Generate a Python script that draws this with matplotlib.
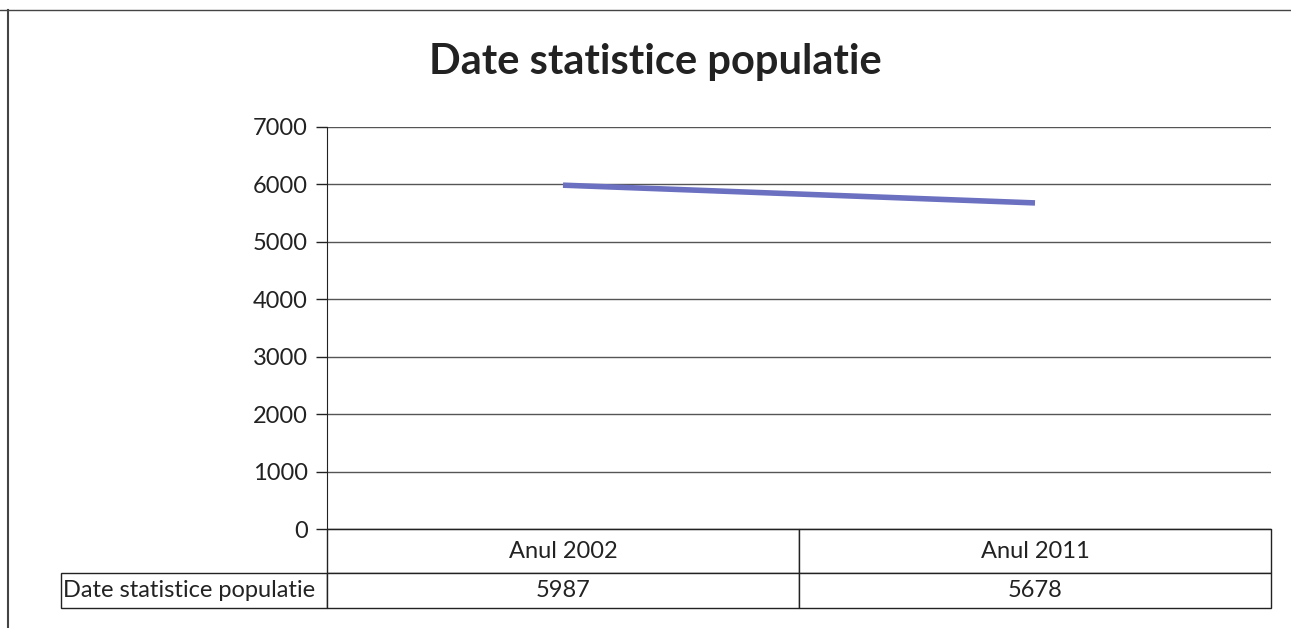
import matplotlib.pyplot as plt
from matplotlib.lines import Line2D

# data
categories = ['Anul 2002', 'Anul 2011']
populatie = [5987, 5678]
series_name = 'Date statistice populatie'
y_ticks = [0, 1000, 2000, 3000, 4000, 5000, 6000, 7000]

plt.rcParams['font.family'] = ['Lato', 'DejaVu Sans']

W, H = 1291, 628
fig = plt.figure(figsize=(W / 100, H / 100), dpi=100)

# axes box in pixels: x 327..1271, y 127..529 (from top)
ax_l, ax_r, ax_t, ax_b = 327, 1271, 127, 529
ax = fig.add_axes([ax_l / W, 1 - ax_b / H, (ax_r - ax_l) / W, (ax_b - ax_t) / H])

x = range(len(categories))
ax.plot(x, populatie, color='#6b70c0', lw=4, solid_capstyle='butt')

ax.set_xlim(-0.5, len(categories) - 0.5)
ax.set_ylim(0, 7000)
ax.set_yticks(y_ticks)
ax.set_xticks([])
ax.tick_params(axis='y', labelsize=17, length=8, width=1, pad=6, colors='#222222')
ax.yaxis.grid(True, color='#555555', lw=1)
ax.set_axisbelow(True)
for s in ['top', 'right']:
    ax.spines[s].set_visible(False)
ax.spines['left'].set_color('#222222')
ax.spines['bottom'].set_color('#222222')

fig.text(655 / W, 1 - 62 / H, 'Date statistice populatie', ha='center', va='center',
         fontsize=30, fontweight='bold', color='#222222')

# data table under the axis
label_w = ax_l - 61
col_w = (ax_r - ax_l) / len(categories)
row_h = [44, 35]
tbl_h = sum(row_h)
ax_w_px = ax_r - ax_l
ax_h_px = ax_b - ax_t
cell_text = [[''] + categories, [series_name] + [str(v) for v in populatie]]
tbl = ax.table(cellText=cell_text,
               colWidths=[label_w] + [col_w] * len(categories),
               cellLoc='center',
               bbox=[-label_w / ax_w_px, -tbl_h / ax_h_px, 1 + label_w / ax_w_px, tbl_h / ax_h_px])
tbl.auto_set_font_size(False)
for (r, c), cell in tbl.get_celld().items():
    cell.set_height(row_h[r])
    cell.set_linewidth(1)
    cell.set_edgecolor('#222222')
    cell.get_text().set_fontsize(17)
    cell.get_text().set_color('#222222')
    if r == 0 and c == 0:
        cell.visible_edges = ''
    if r == 1 and c == 0:
        cell.PAD = 0.008
        cell.get_text().set_ha('left')
        cell._loc = 'left'

# scanned page border
fig.add_artist(Line2D([0, 1], [1 - 10 / H, 1 - 10 / H], transform=fig.transFigure, color='#444444', lw=1))
fig.add_artist(Line2D([8 / W, 8 / W], [0, 1 - 10 / H], transform=fig.transFigure, color='#444444', lw=1.5))

fig.savefig('out.png', dpi=100)
